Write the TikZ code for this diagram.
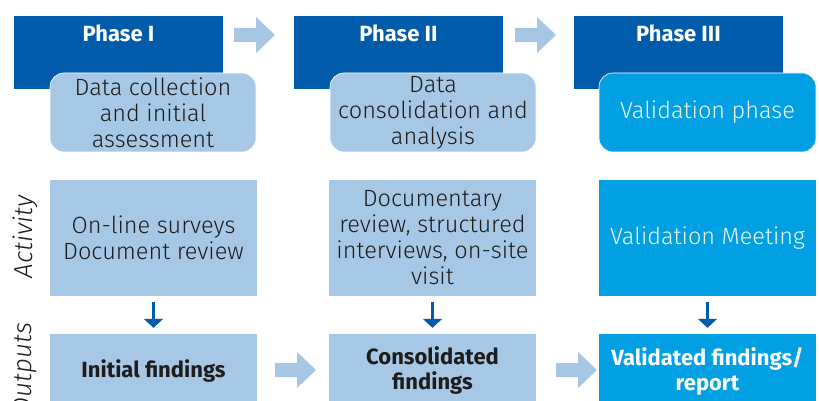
\documentclass[tikz,border=0pt]{standalone}
\usepackage{fontspec}
\setmainfont{Fira Sans}[UprightFont=* Light, ItalicFont=* Light Italic, BoldFont=* Bold]
\usetikzlibrary{arrows.meta}
\definecolor{darkblue}{RGB}{0,91,170}
\definecolor{lightblue}{RGB}{167,200,228}
\definecolor{cyanblue}{RGB}{0,160,227}
\definecolor{arrowblue}{RGB}{165,199,227}
\definecolor{txt}{RGB}{29,29,27}
\definecolor{softwhite}{RGB}{235,246,252}
\tikzset{
  phasebox/.style={fill=darkblue, text=white, inner sep=0pt, minimum width=209pt, minimum height=73pt,
    text height=16pt, text depth=37pt, font=\bfseries\fontsize{22}{26}\selectfont},
  roundbox/.style={rounded corners=14pt, draw=white, line width=0.6pt, inner sep=0pt, minimum height=79pt,
    align=center, font=\fontsize{23.5}{26}\selectfont},
  lightround/.style={roundbox, fill=lightblue, text=txt, minimum width=206pt},
  cyanround/.style={roundbox, fill=cyanblue, text=softwhite, minimum width=217pt},
  actbox/.style={inner sep=0pt, minimum height=116pt, align=center, font=\fontsize{23.5}{26}\selectfont},
  lightact/.style={actbox, fill=lightblue, text=txt, minimum width=207pt},
  cyanact/.style={actbox, fill=cyanblue, text=softwhite, minimum width=217pt},
  outbox/.style={inner sep=0pt, minimum height=74pt, align=center, font=\bfseries\fontsize{22}{25}\selectfont},
  lightout/.style={outbox, fill=lightblue, text=txt, minimum width=207pt},
  cyanout/.style={outbox, fill=cyanblue, text=white, minimum width=217pt},
  sidelabel/.style={rotate=90, text=txt, font=\itshape\fontsize{26}{28}\selectfont, inner sep=0pt},
  downarrow/.style={draw=darkblue, line width=3pt, -{Triangle[width=19pt,length=9pt]}, shorten <=6pt, shorten >=6pt},
  bigarrow/.pic={\fill[arrowblue] (0,-7) -- (22,-7) -- (22,-18) -- (41,0) -- (22,18) -- (22,7) -- (0,7) -- cycle;}
}
\begin{document}
\begin{tikzpicture}[x=1pt, y=-1pt]
\useasboundingbox (0,0) rectangle (819,401);
\clip (0,0) rectangle (819,401);
% phase headers
\node[phasebox] (p1) at (118.5,52.5) {Phase I};
\node[phasebox] (p2) at (398.5,52.5) {Phase II};
\node[phasebox] (p3) at (678.5,52.5) {Phase III};
% rounded description boxes
\node[lightround] (r1) at (153,112.5) {Data collection\\and initial\\assessment};
\node[lightround] (r2) at (433,112.5) {Data\\consolidation and\\analysis};
\node[cyanround] (r3) at (707.5,112.5) {Validation phase};
% arrows between phases
\pic at (234,35) {bigarrow};
\pic at (515,35) {bigarrow};
% activity boxes
\node[lightact] (a1) at (153.5,238) {On-line surveys\\Document review};
\node[lightact] (a2) at (432.5,238) {Documentary\\review, structured\\interviews, on-site\\visit};
\node[cyanact] (a3) at (707.5,238) {Validation Meeting};
% output boxes
\node[lightout] (o1) at (153.5,371) {Initial findings};
\node[lightout] (o2) at (432.5,371) {Consolidated\\findings};
\node[cyanout] (o3) at (707.5,371) {Validated findings/\\report};
% down arrows
\draw[downarrow] (a1) -- (o1);
\draw[downarrow] (a2) -- (o2);
\draw[downarrow] (a3) -- (o3);
% arrows between outputs
\pic at (275,370) {bigarrow};
\pic at (556,370) {bigarrow};
% side labels
\node[sidelabel] (lact) at (25,237) {Activity};
\node[sidelabel] (lout) at (25,369) {Outputs};
\end{tikzpicture}
\end{document}
